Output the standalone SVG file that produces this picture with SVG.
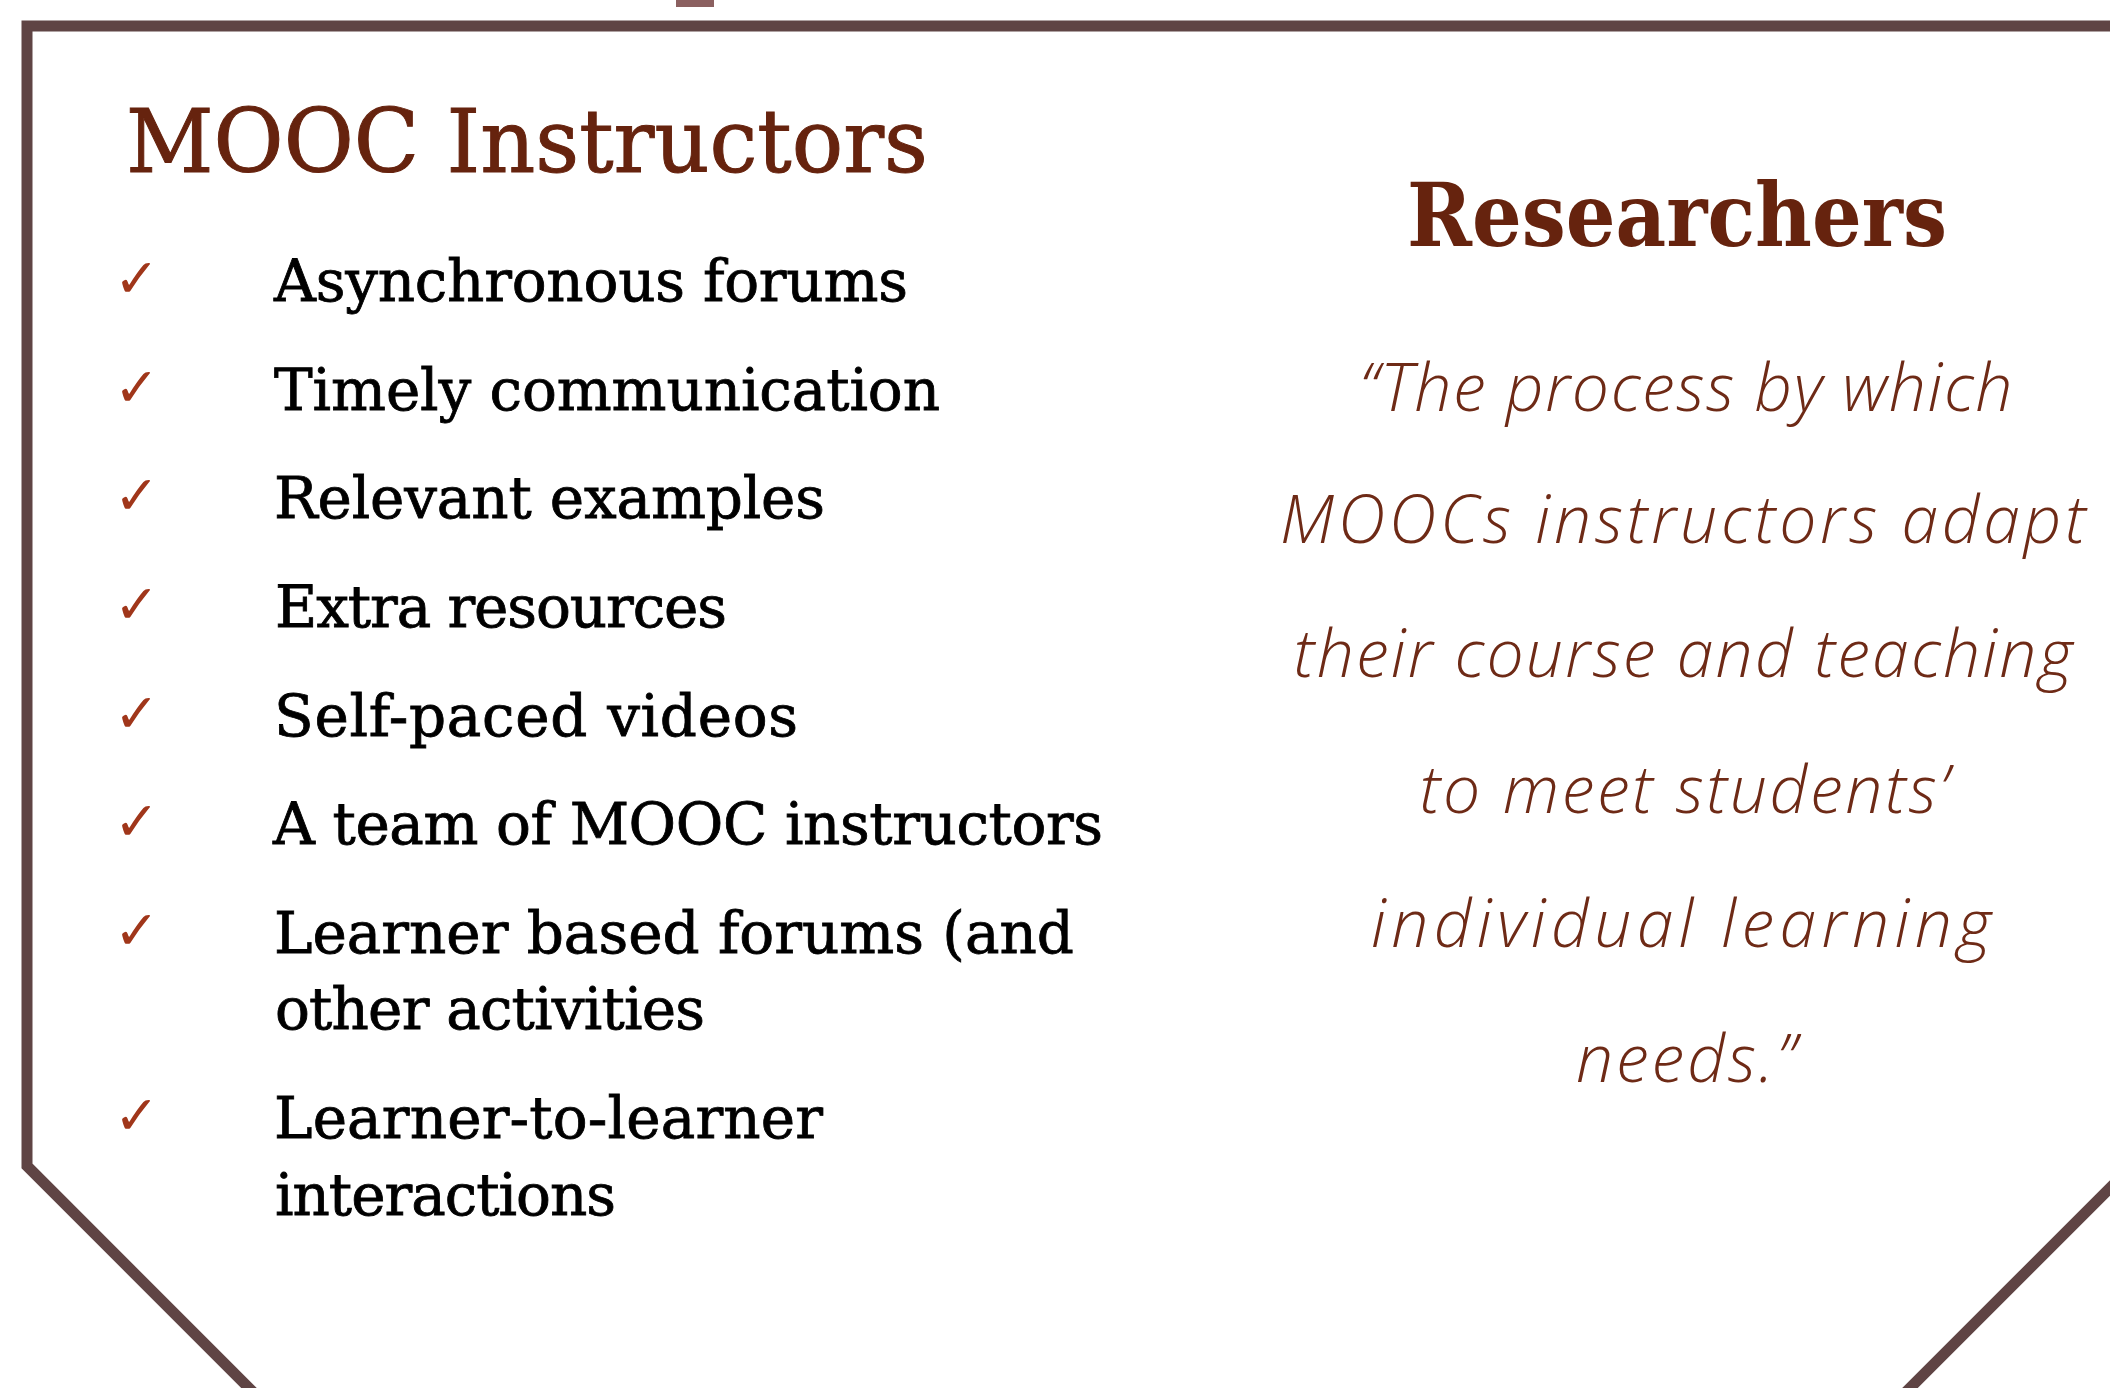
<svg xmlns="http://www.w3.org/2000/svg" width="2110" height="1388" viewBox="0 0 2110 1388">
<style>
.frame{fill:none;stroke:#5F4444;stroke-width:11;stroke-linejoin:miter}
.title{font-family:"DejaVu Serif","Liberation Serif",serif;font-size:88px;fill:#66230E;stroke:#66230E;stroke-width:1}
.bold{font-weight:bold;stroke-width:0}
.item{font-family:"DejaVu Serif","Liberation Serif",serif;font-size:58px;fill:#000;stroke:#000;stroke-width:0.8}
.check{font-family:"DejaVu Sans",sans-serif;font-size:54px;font-weight:bold;fill:#A0361A}
.quote{font-family:"Open Sans","Roboto",sans-serif;font-style:italic;font-weight:300;font-size:66px;fill:#6E2A16;text-anchor:middle}
</style>
<rect width="2110" height="1388" fill="#ffffff"/>
<g id="frame">
<rect x="676" y="0" width="38" height="7" fill="#8B6060"/>
<polygon class="frame" points="27,26 2132,26 2132,1166 1079.5,2218.5 27,1166"/>
</g>
<g id="instructors-title">
<text class="title" x="126" y="172" textLength="802" lengthAdjust="spacingAndGlyphs">MOOC Instructors</text>
</g>
<g id="item1"><text class="check" x="114" y="297">✓</text><text class="item" x="274" y="301" textLength="634">Asynchronous forums</text></g>
<g id="item2"><text class="check" x="114" y="406">✓</text><text class="item" x="274" y="410" textLength="666">Timely communication</text></g>
<g id="item3"><text class="check" x="114" y="514">✓</text><text class="item" x="274" y="518" textLength="551">Relevant examples</text></g>
<g id="item4"><text class="check" x="114" y="623">✓</text><text class="item" x="275" y="627" textLength="452">Extra resources</text></g>
<g id="item5"><text class="check" x="114" y="732">✓</text><text class="item" x="274" y="736" textLength="524">Self-paced videos</text></g>
<g id="item6"><text class="check" x="114" y="840">✓</text><text class="item" x="273" y="844" textLength="830">A team of MOOC instructors</text></g>
<g id="item7"><text class="check" x="114" y="949">✓</text><text class="item" x="274" y="953" textLength="800">Learner based forums (and</text><text class="item" x="275" y="1029" textLength="430">other activities</text></g>
<g id="item8"><text class="check" x="114" y="1134">✓</text><text class="item" x="274" y="1138" textLength="549">Learner-to-learner</text><text class="item" x="275" y="1215" textLength="341">interactions</text></g>
<g id="researchers-title">
<text class="title bold" x="1407" y="246" textLength="540" lengthAdjust="spacingAndGlyphs">Researchers</text>
</g>
<g id="researchers-quote">
<text class="quote" x="1686" y="411" textLength="653">“The process by which</text>
<text class="quote" x="1683" y="543" textLength="806">MOOCs instructors adapt</text>
<text class="quote" x="1683" y="677" textLength="779">their course and teaching</text>
<text class="quote" x="1684" y="813" textLength="529">to meet students’</text>
<text class="quote" x="1681" y="947" textLength="620">individual learning</text>
<text class="quote" x="1686" y="1082" textLength="220">needs.”</text>
</g>
</svg>
